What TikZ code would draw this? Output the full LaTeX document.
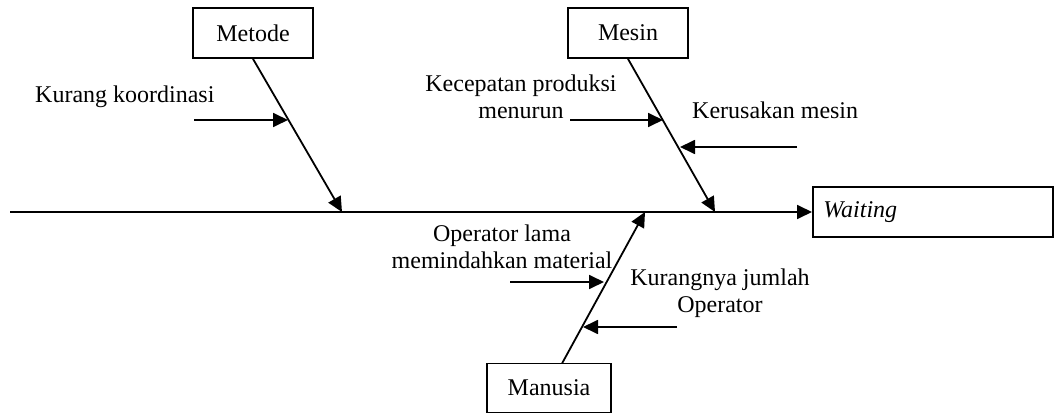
\documentclass[tikz,border=0pt]{standalone}
\usepackage{fontspec}
\setmainfont{Liberation Serif}
\usetikzlibrary{arrows.meta,calc}
\begin{document}
\begin{tikzpicture}[x=1pt,y=-1pt,
  box/.style={draw,line width=1.8pt,inner sep=0pt,font=\fontsize{24}{27}\selectfont},
  lbl/.style={inner sep=0pt,align=center,font=\fontsize{24}{27}\selectfont},
  arr/.style={line width=1.8pt,-{Triangle[length=15pt,width=14pt]}}]
\useasboundingbox (0,0) rectangle (1055,414);
% boxes
\node[box,minimum width=120pt,minimum height=50pt] (metode) at (253,33) {Metode};
\node[box,minimum width=120pt,minimum height=50pt] (mesin) at (628,33) {Mesin};
\node[box,minimum width=124pt,minimum height=49pt] (manusia) at (549,388) {Manusia};
\node[box,minimum width=240pt,minimum height=50pt,text width=219pt,align=left,inner xsep=10.5pt,anchor=west] (waiting) at (812,212) {\itshape Waiting};
% main spine
\coordinate (spine) at (10,212);
\coordinate (m1) at (342,212);
\coordinate (m2) at (715,212);
\coordinate (m3) at (645,212);
\draw[arr] (spine) -- (waiting.west);
% bones
\draw[arr] (metode.south) -- (m1);
\draw[arr] (mesin.south) -- (m2);
\coordinate (mtop) at (562,363.5);
\draw[arr] (mtop) -- (m3);
% labels
\node[lbl,anchor=west] (l1) at (35,97) {Kurang koordinasi};
\node[lbl] (l2) at (521,96.5) {Kecepatan produksi\\menurun};
\node[lbl,anchor=west] (l3) at (692,110) {Kerusakan mesin};
\node[lbl] (l4) at (502,246.5) {Operator lama\\memindahkan material};
\node[lbl] (l5) at (720,293.5) {Kurangnya jumlah\\Operator};
% sub-cause arrows
\coordinate (a1s) at (194,120);
\coordinate (a1e) at (288,120);
\draw[arr] (a1s) -- (a1e);
\coordinate (a2s) at (570,120);
\coordinate (a2e) at (663,120);
\draw[arr] (a2s) -- (a2e);
\coordinate (a3s) at (797,147);
\coordinate (a3e) at (680,147);
\draw[arr] (a3s) -- (a3e);
\coordinate (a4s) at (510,282);
\coordinate (a4e) at (604,282);
\draw[arr] (a4s) -- (a4e);
\coordinate (a5s) at (677,327);
\coordinate (a5e) at (583,327);
\draw[arr] (a5s) -- (a5e);
\end{tikzpicture}
\end{document}
